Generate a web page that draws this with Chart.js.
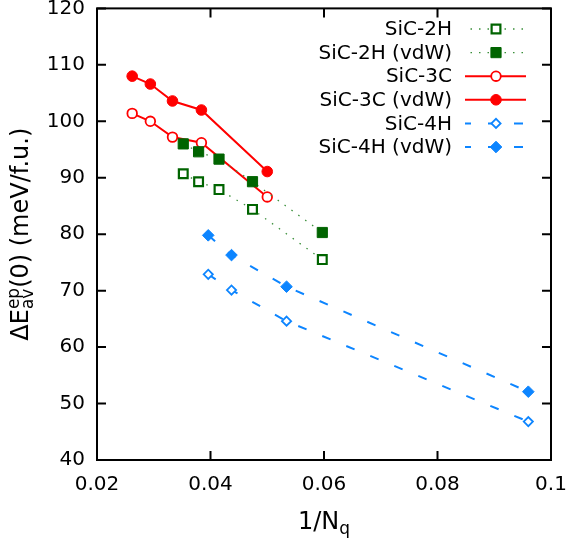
<!DOCTYPE html>
<html>
<head>
<meta charset="utf-8">
<script src="https://cdn.jsdelivr.net/npm/chart.js@4"></script>
<style>
  html, body { margin: 0; padding: 0; background: #fff; }
  #wrap { width: 569px; height: 538px; }
</style>
</head>
<body>
<div id="wrap"><canvas id="chart"></canvas></div>
<script>
// values (x = 1/Nq, y = meV/f.u.)
const x2H = [0.0352, 0.0379, 0.0415, 0.0474, 0.0597];
const y2H = [90.7, 89.3, 87.9, 84.4, 75.5];
const y2Hvdw = [96.0, 94.6, 93.3, 89.3, 80.3];

const x3C = [0.0262, 0.0294, 0.0333, 0.0384, 0.0500];
const y3C = [101.4, 100.0, 97.2, 96.2, 86.6];
const y3Cvdw = [108.0, 106.6, 103.6, 102.0, 91.1];

const x4H = [0.0396, 0.0437, 0.0534, 0.0960];
const y4H = [72.9, 70.1, 64.6, 46.8];
const y4Hvdw = [79.8, 76.3, 70.7, 52.1];

const seriesNames = ["SiC-2H", "SiC-2H (vdW)", "SiC-3C", "SiC-3C (vdW)", "SiC-4H", "SiC-4H (vdW)"];
const xTickLabels = ["0.02", "0.04", "0.06", "0.08", "0.1"];
const yTickLabels = ["40", "50", "60", "70", "80", "90", "100", "110", "120"];

const FONT = '"DejaVu Sans", sans-serif';
const GREEN = "#006400";
const RED = "#ff0000";
const BLUE = "#0d85ff";

const pts = (xs, ys) => xs.map((x, i) => ({ x: x, y: ys[i] }));

function series(name, data, color, lineColor, dash, width, style, radius, filled, bw) {
  return {
    label: name,
    data: data,
    showLine: true,
    borderColor: lineColor,
    borderWidth: width,
    borderDash: dash,
    pointStyle: style,
    pointRadius: radius,
    pointHoverRadius: radius,
    pointBorderWidth: bw,
    pointBorderColor: color,
    pointBackgroundColor: filled ? color : "#fff",
  };
}

const datasets = [
  series(seriesNames[0], pts(x2H, y2H), GREEN, "#3a8f3a", [1.5, 7], 1.3, "rect", 6.2, false, 2.2),
  series(seriesNames[1], pts(x2H, y2Hvdw), GREEN, "#3a8f3a", [1.5, 7], 1.3, "rect", 7.2, true, 1),
  series(seriesNames[2], pts(x3C, y3C), RED, RED, [], 2, "circle", 4.8, false, 1.8),
  series(seriesNames[3], pts(x3C, y3Cvdw), RED, RED, [], 2, "circle", 5.3, true, 1),
  series(seriesNames[4], pts(x4H, y4H), BLUE, BLUE, [9, 17], 2, "rectRot", 4.6, false, 1.8),
  series(seriesNames[5], pts(x4H, y4Hvdw), BLUE, BLUE, [9, 17], 2, "rectRot", 5.8, true, 1),
];

// frame, inward ticks, legend and axis titles drawn the gnuplot way
const decor = {
  id: "decor",
  afterDraw(chart) {
    const { ctx, chartArea: a, scales } = chart;
    const xs = scales.x, ys = scales.y;
    ctx.save();
    ctx.strokeStyle = "#000";
    ctx.lineWidth = 2;
    ctx.setLineDash([]);
    ctx.strokeRect(a.left, a.top, a.right - a.left, a.bottom - a.top);
    ctx.beginPath();
    const tl = 9;
    xs.ticks.forEach(t => {
      const px = xs.getPixelForValue(t.value);
      ctx.moveTo(px, a.bottom); ctx.lineTo(px, a.bottom - tl);
      ctx.moveTo(px, a.top); ctx.lineTo(px, a.top + tl);
    });
    ys.ticks.forEach(t => {
      const py = ys.getPixelForValue(t.value);
      ctx.moveTo(a.left, py); ctx.lineTo(a.left + tl, py);
      ctx.moveTo(a.right, py); ctx.lineTo(a.right - tl, py);
    });
    ctx.stroke();

    // legend
    ctx.font = "20px " + FONT;
    ctx.textAlign = "right";
    ctx.textBaseline = "middle";
    chart.data.datasets.forEach((ds, i) => {
      const yy = 29 + i * 23.6;
      ctx.fillStyle = "#000";
      ctx.fillText(ds.label, 452, yy + 1);
      ctx.beginPath();
      ctx.strokeStyle = ds.borderColor;
      ctx.lineWidth = ds.borderWidth;
      ctx.setLineDash(ds.borderDash);
      ctx.lineDashOffset = ds.borderDash.length ? 3 : 0;
      ctx.moveTo(465, yy); ctx.lineTo(526, yy);
      ctx.stroke();
      ctx.setLineDash([]);
      ctx.strokeStyle = ds.pointBorderColor;
      ctx.fillStyle = ds.pointBackgroundColor;
      ctx.lineWidth = ds.pointBorderWidth;
      Chart.helpers.drawPoint(ctx, {
        pointStyle: ds.pointStyle, radius: ds.pointRadius, rotation: 0, borderWidth: ds.pointBorderWidth
      }, 496, yy);
    });

    // x title: 1/N_q
    ctx.fillStyle = "#000";
    ctx.textAlign = "left";
    ctx.textBaseline = "alphabetic";
    ctx.font = "24px " + FONT;
    const wN = ctx.measureText("1/N").width;
    ctx.font = "17px " + FONT;
    const wq = ctx.measureText("q").width;
    let x0 = (a.left + a.right) / 2 - (wN + wq) / 2;
    ctx.font = "24px " + FONT;
    ctx.fillText("1/N", x0, 529);
    ctx.font = "17px " + FONT;
    ctx.fillText("q", x0 + wN, 534);

    // y title: ΔE_av^ep(0) (meV/f.u.)
    ctx.translate(28, (a.top + a.bottom) / 2);
    ctx.rotate(-Math.PI / 2);
    ctx.font = "24px " + FONT;
    const w1 = ctx.measureText("ΔE").width;
    const w3 = ctx.measureText("(0) (meV/f.u.)").width;
    ctx.font = "17px " + FONT;
    const w2 = Math.max(ctx.measureText("ep").width, ctx.measureText("av").width);
    let xx = -(w1 + w2 + w3) / 2;
    ctx.font = "24px " + FONT;
    ctx.fillText("ΔE", xx, 0);
    xx += w1;
    ctx.font = "17px " + FONT;
    ctx.fillText("ep", xx, -9);
    ctx.fillText("av", xx, 5);
    xx += w2;
    ctx.font = "24px " + FONT;
    ctx.fillText("(0) (meV/f.u.)", xx, 0);
    ctx.restore();
  }
};

new Chart(document.getElementById("chart"), {
  type: "scatter",
  data: { datasets: datasets },
  options: {
    responsive: true,
    maintainAspectRatio: false,
    animation: false,
    layout: { padding: { top: 6, right: 18, left: 0, bottom: 0 } },
    plugins: { legend: { display: false }, tooltip: { enabled: false } },
    scales: {
      x: {
        type: "linear",
        min: 0.02, max: 0.1,
        grid: { display: false, drawTicks: false },
        border: { display: false },
        ticks: {
          stepSize: 0.02,
          padding: 13,
          color: "#000",
          font: { family: FONT, size: 20 },
          maxRotation: 0,
          callback: (v, i) => xTickLabels[i],
        },
        afterFit: s => { s.height = 78; s.paddingLeft = 0; s.paddingRight = 0; },
      },
      y: {
        type: "linear",
        min: 40, max: 120,
        grid: { display: false, drawTicks: false },
        border: { display: false },
        ticks: {
          stepSize: 10,
          padding: 12,
          color: "#000",
          font: { family: FONT, size: 20 },
          callback: (v, i) => yTickLabels[i],
        },
        afterFit: s => { s.width = 97; s.paddingTop = 0; s.paddingBottom = 0; },
      },
    },
  },
  plugins: [decor],
});
</script>
</body>
</html>
